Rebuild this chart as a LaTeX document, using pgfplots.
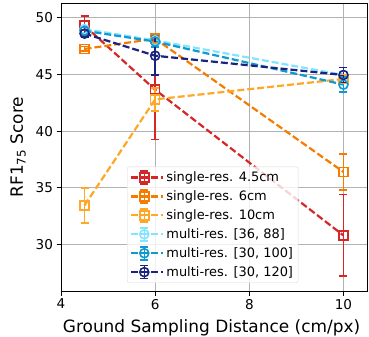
\documentclass[border=0pt]{standalone}
\usepackage{pgfplots}
\pgfplotsset{compat=1.18}
\usepackage{fontspec}
\setmainfont{DejaVu Sans}
\definecolor{cRed}{HTML}{D62728}
\definecolor{cOrange}{HTML}{F57C00}
\definecolor{cLOrange}{HTML}{FFA726}
\definecolor{cLCyan}{HTML}{80E5FF}
\definecolor{cCyan}{HTML}{0E9AD0}
\definecolor{cNavy}{HTML}{1A237E}
\begin{document}
\begin{tikzpicture}
\begin{axis}[
  scale only axis, width=306bp, height=288bp,
  xmin=4, xmax=10.5, ymin=25.9, ymax=51.3,
  xtick={4,6,8,10}, ytick={30,35,40,45,50},
  tick pos=left, tick align=outside,
  major tick length=4.5bp,
  every tick/.style={black, line width=0.8bp},
  axis line style={line width=0.9bp},
  grid=major, major grid style={color=black!30, line width=0.9bp},
  /pgf/number format/assume math mode=true,
  ticklabel style={font=\fontsize{13.6}{15}\selectfont},
  xlabel={Ground Sampling Distance (cm/px)},
  ylabel={RF1\textsubscript{75} Score},
  label style={font=\fontsize{17}{19}\selectfont},
  xlabel style={at={(axis description cs:0.492,-0.1285)}, anchor=center},
  ylabel style={at={(axis description cs:-0.1405,0.5)}, anchor=center},
  clip=false,
  legend cell align=left,
  legend style={at={(axis description cs:0.2157,0.0278)}, anchor=south west,
    draw=black!15, rounded corners=2bp, fill=white, fill opacity=0.8, text opacity=1,
    font=\fontsize{13}{15}\selectfont, inner xsep=3bp, inner ysep=3bp, row sep=3.6bp,
    /tikz/every even column/.append style={column sep=0bp}},
  legend image code/.code={
    \path (0bp,0bp) -- (32bp,0bp);
    \draw[#1, mark=none] (0bp,0bp) -- (26bp,0bp);
    \draw[#1, solid, mark=none, line width=1.6bp] (13bp,-6.5bp) -- (13bp,6.5bp) (9bp,6.5bp) -- (17bp,6.5bp) (9bp,-6.5bp) -- (17bp,-6.5bp);
    \draw[#1, solid] plot coordinates {(13bp,0bp)};
  },
  every axis plot/.append style={line width=2.2bp, dash pattern=on 7bp off 3bp,
    mark size=4.5bp, mark options={solid, line width=1.6bp},
    error bars/y dir=both, error bars/y explicit,
    error bars/error bar style={solid, line width=1.6bp},
    error bars/error mark options={rotate=90, mark size=4bp, line width=1.6bp}},
]
\addplot[color=cRed, mark=square] table[x=x, y=y, y error=e] {
x y e
4.5 49.3 0.85
6 43.65 4.4
10 30.8 3.6
};
\addlegendentry{single-res. 4.5cm}
\addplot[color=cOrange, mark=square] table[x=x, y=y, y error=e] {
x y e
4.5 47.25 0.2
6 48.15 0.3
10 36.4 1.6
};
\addlegendentry{single-res. 6cm}
\addplot[color=cLOrange, mark=square] table[x=x, y=y, y error=e] {
x y e
4.5 33.45 1.55
6 42.8 1.0
10 44.6 0.3
};
\addlegendentry{single-res. 10cm}
\addplot[color=cLCyan, mark=o] table[x=x, y=y, y error=e] {
x y e
4.5 49.0 0.3
6 48.0 0.3
10 44.95 0.3
};
\addlegendentry{multi-res. [36, 88]}
\addplot[color=cCyan, mark=o] table[x=x, y=y, y error=e] {
x y e
4.5 48.85 0.3
6 47.9 0.5
10 44.1 0.65
};
\addlegendentry{multi-res. [30, 100]}
\addplot[color=cNavy, mark=o] table[x=x, y=y, y error=e] {
x y e
4.5 48.6 0.3
6 46.65 1.7
10 44.95 0.65
};
\addlegendentry{multi-res. [30, 120]}
\end{axis}
\pgfresetboundingbox
\path[use as bounding box] (-61bp,-46bp) rectangle (308bp,291bp);
\end{tikzpicture}
\end{document}
